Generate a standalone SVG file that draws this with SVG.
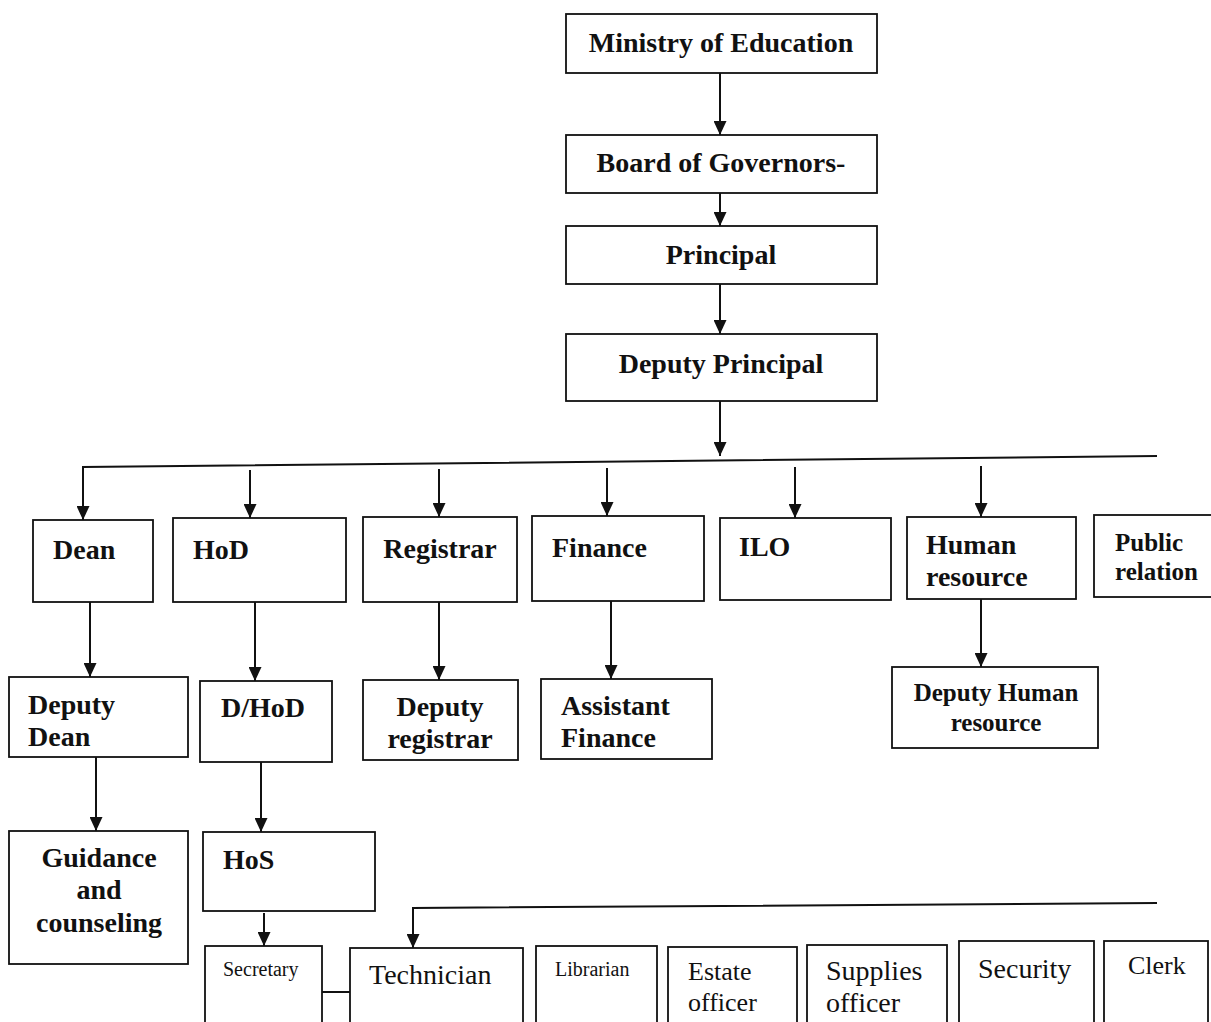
<svg xmlns="http://www.w3.org/2000/svg" width="1211" height="1022" viewBox="0 0 1211 1022">
<defs>
<marker id="ah" markerUnits="userSpaceOnUse" markerWidth="15" markerHeight="13" refX="14" refY="6.5" orient="auto">
<path d="M0,0 L14,6.5 L0,13 Z" fill="#111"/>
</marker>
<style>
rect{fill:#fff;stroke:#111;stroke-width:1.8}
text{font-family:"Liberation Serif","Times New Roman",serif;fill:#111}
.b{font-weight:bold;font-size:28px}
.bs{font-weight:bold;font-size:25px}
.r{font-size:28px}
.rs{font-size:26px}
.t{font-size:20px}
.c{text-anchor:middle}
#connectors path,#connectors line{stroke:#111;stroke-width:2;fill:none}
.a{marker-end:url(#ah)}
</style>
</defs>
<rect x="0" y="0" width="1211" height="1022" style="fill:#fff;stroke:none"/>
<g id="connectors">
<line class="a" x1="720" y1="73" x2="720" y2="135"/>
<line class="a" x1="720" y1="193" x2="720" y2="226"/>
<line class="a" x1="720" y1="284" x2="720" y2="334"/>
<line class="a" x1="720" y1="401" x2="720" y2="456"/>
<path class="a" d="M1157,456 L83,467 L83,520"/>
<line class="a" x1="250" y1="470" x2="250" y2="518"/>
<line class="a" x1="439" y1="469" x2="439" y2="517"/>
<line class="a" x1="607" y1="468" x2="607" y2="516"/>
<line class="a" x1="795" y1="467" x2="795" y2="518"/>
<line class="a" x1="981" y1="466" x2="981" y2="517"/>
<line class="a" x1="90" y1="602" x2="90" y2="677"/>
<line class="a" x1="255" y1="602" x2="255" y2="681"/>
<line class="a" x1="439" y1="602" x2="439" y2="680"/>
<line class="a" x1="611" y1="601" x2="611" y2="679"/>
<line class="a" x1="981" y1="599" x2="981" y2="667"/>
<line class="a" x1="96" y1="757" x2="96" y2="831"/>
<line class="a" x1="261" y1="762" x2="261" y2="832"/>
<line class="a" x1="264" y1="913" x2="264" y2="946"/>
<path class="a" d="M1157,903 L413,908 L413,948"/>
<line x1="322" y1="992" x2="350" y2="992"/>
</g>
<g id="ministry"><rect x="566" y="14" width="311" height="59"/><text class="b c" x="721" y="52">Ministry of Education</text></g>
<g id="board"><rect x="566" y="135" width="311" height="58"/><text class="b c" x="721" y="172">Board of Governors-</text></g>
<g id="principal"><rect x="566" y="226" width="311" height="58"/><text class="b c" x="721" y="264">Principal</text></g>
<g id="deputy-principal"><rect x="566" y="334" width="311" height="67"/><text class="b c" x="721" y="373">Deputy Principal</text></g>
<g id="dean"><rect x="33" y="520" width="120" height="82"/><text class="b" x="53" y="559">Dean</text></g>
<g id="hod"><rect x="173" y="518" width="173" height="84"/><text class="b" x="193" y="559">HoD</text></g>
<g id="registrar"><rect x="363" y="517" width="154" height="85"/><text class="b c" x="440" y="558">Registrar</text></g>
<g id="finance"><rect x="532" y="516" width="172" height="85"/><text class="b" x="552" y="557">Finance</text></g>
<g id="ilo"><rect x="720" y="518" width="171" height="82"/><text class="b" x="739" y="556">ILO</text></g>
<g id="human-resource"><rect x="907" y="517" width="169" height="82"/><text class="b" x="926" y="554">Human</text><text class="b" x="926" y="586">resource</text></g>
<g id="public-relation"><rect x="1094" y="515" width="125" height="82"/><text class="bs" x="1115" y="551">Public</text><text class="bs" x="1115" y="580">relation</text></g>
<g id="deputy-dean"><rect x="9" y="677" width="179" height="80"/><text class="b" x="28" y="714">Deputy</text><text class="b" x="28" y="746">Dean</text></g>
<g id="dhod"><rect x="200" y="681" width="132" height="81"/><text class="b" x="221" y="717">D/HoD</text></g>
<g id="deputy-registrar"><rect x="363" y="680" width="155" height="80"/><text class="b c" x="440" y="716">Deputy</text><text class="b c" x="440" y="748">registrar</text></g>
<g id="assistant-finance"><rect x="541" y="679" width="171" height="80"/><text class="b" x="561" y="715">Assistant</text><text class="b" x="561" y="747">Finance</text></g>
<g id="deputy-human-resource"><rect x="892" y="667" width="206" height="81"/><text class="bs c" x="996" y="701">Deputy Human</text><text class="bs c" x="996" y="731">resource</text></g>
<g id="guidance"><rect x="9" y="831" width="179" height="133"/><text class="b c" x="99" y="867">Guidance</text><text class="b c" x="99" y="899">and</text><text class="b c" x="99" y="932">counseling</text></g>
<g id="hos"><rect x="203" y="832" width="172" height="79"/><text class="b" x="223" y="869">HoS</text></g>
<g id="secretary"><rect x="205" y="946" width="117" height="90"/><text class="t" x="223" y="976">Secretary</text></g>
<g id="technician"><rect x="350" y="948" width="173" height="90"/><text class="r" x="369" y="984">Technician</text></g>
<g id="librarian"><rect x="536" y="946" width="121" height="90"/><text class="t" x="555" y="976">Librarian</text></g>
<g id="estate-officer"><rect x="668" y="947" width="129" height="90"/><text class="rs" x="688" y="980">Estate</text><text class="rs" x="688" y="1011">officer</text></g>
<g id="supplies-officer"><rect x="807" y="945" width="140" height="90"/><text class="r" x="826" y="980">Supplies</text><text class="r" x="826" y="1012">officer</text></g>
<g id="security"><rect x="959" y="941" width="135" height="90"/><text class="r" x="978" y="978">Security</text></g>
<g id="clerk"><rect x="1104" y="941" width="104" height="90"/><text class="rs" x="1128" y="974">Clerk</text></g>
</svg>
